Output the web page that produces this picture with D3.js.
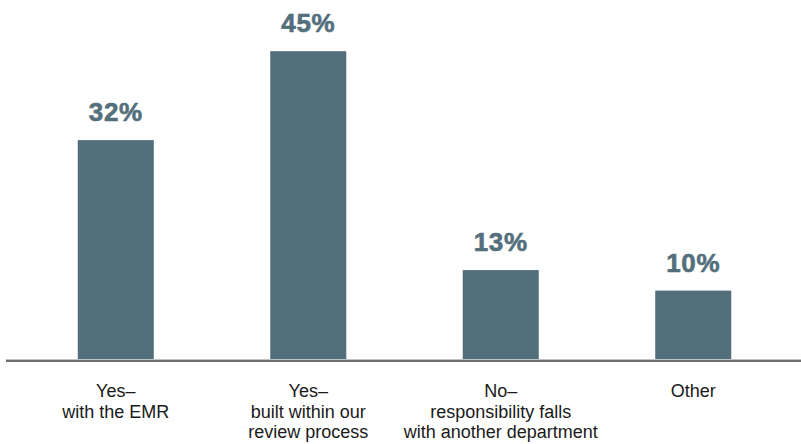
<!DOCTYPE html>
<html>
<head>
<meta charset="utf-8">
<script src="https://cdn.jsdelivr.net/npm/d3@7"></script>
<style>
  html, body { margin: 0; padding: 0; background: #ffffff; }
  svg { display: block; }
</style>
</head>
<body>
<svg id="chart" width="801" height="444"></svg>
<script>
// Survey responses: share of respondents per answer
const categories = ["yes-emr", "yes-review", "no-other-dept", "other"];
const categoryLines = [
  ["Yes–", "with the EMR"],
  ["Yes–", "built within our", "review process"],
  ["No–", "responsibility falls", "with another department"],
  ["Other"]
];
const values = [32, 45, 13, 10];
const valueLabels = ["32%", "45%", "13%", "10%"];

const W = 801, H = 444;
const barColor = "#546f7c";
const svg = d3.select("#chart");

const x = d3.scaleBand()
  .domain(categories)
  .range([20, 789])
  .paddingInner(0.605)
  .paddingOuter(0.3);

const baseY = 359;
const y = d3.scaleLinear()
  .domain([0, 50])
  .range([baseY, baseY - 342]);

// bars
svg.append("g")
  .selectAll("rect")
  .data(values)
  .join("rect")
  .attr("x", (d, i) => x(categories[i]))
  .attr("y", d => y(d))
  .attr("width", x.bandwidth())
  .attr("height", d => y(0) - y(d))
  .attr("fill", barColor);

// value labels above bars
svg.append("g")
  .selectAll("text")
  .data(values)
  .join("text")
  .attr("x", (d, i) => x(categories[i]) + x.bandwidth() / 2)
  .attr("y", d => y(d) - 19)
  .attr("text-anchor", "middle")
  .attr("font-family", "'Liberation Sans', Arial, Helvetica, sans-serif")
  .attr("font-weight", "bold")
  .attr("font-size", 26)
  .attr("letter-spacing", 0.6)
  .attr("fill", barColor)
  .attr("stroke", barColor)
  .attr("stroke-width", 0.6)
  .text((d, i) => valueLabels[i]);

// baseline
svg.append("line")
  .attr("x1", 6).attr("x2", W)
  .attr("y1", baseY + 0.5).attr("y2", baseY + 0.5)
  .attr("stroke", "#c2c2c2").attr("stroke-width", 1);
svg.append("line")
  .attr("x1", 6).attr("x2", W)
  .attr("y1", baseY + 2).attr("y2", baseY + 2)
  .attr("stroke", "#6e6e6e").attr("stroke-width", 2);

// category labels
const catG = svg.append("g")
  .selectAll("text")
  .data(categories)
  .join("text")
  .attr("x", d => x(d) + x.bandwidth() / 2)
  .attr("y", 397)
  .attr("text-anchor", "middle")
  .attr("font-family", "'Liberation Sans', Arial, Helvetica, sans-serif")
  .attr("font-size", 18)
  .attr("fill", "#1a1a1a");

catG.selectAll("tspan")
  .data((d, i) => categoryLines[i])
  .join("tspan")
  .attr("x", function () { return d3.select(this.parentNode).attr("x"); })
  .attr("dy", (d, j) => j === 0 ? 0 : 20.5)
  .text(d => d);
</script>
</body>
</html>
